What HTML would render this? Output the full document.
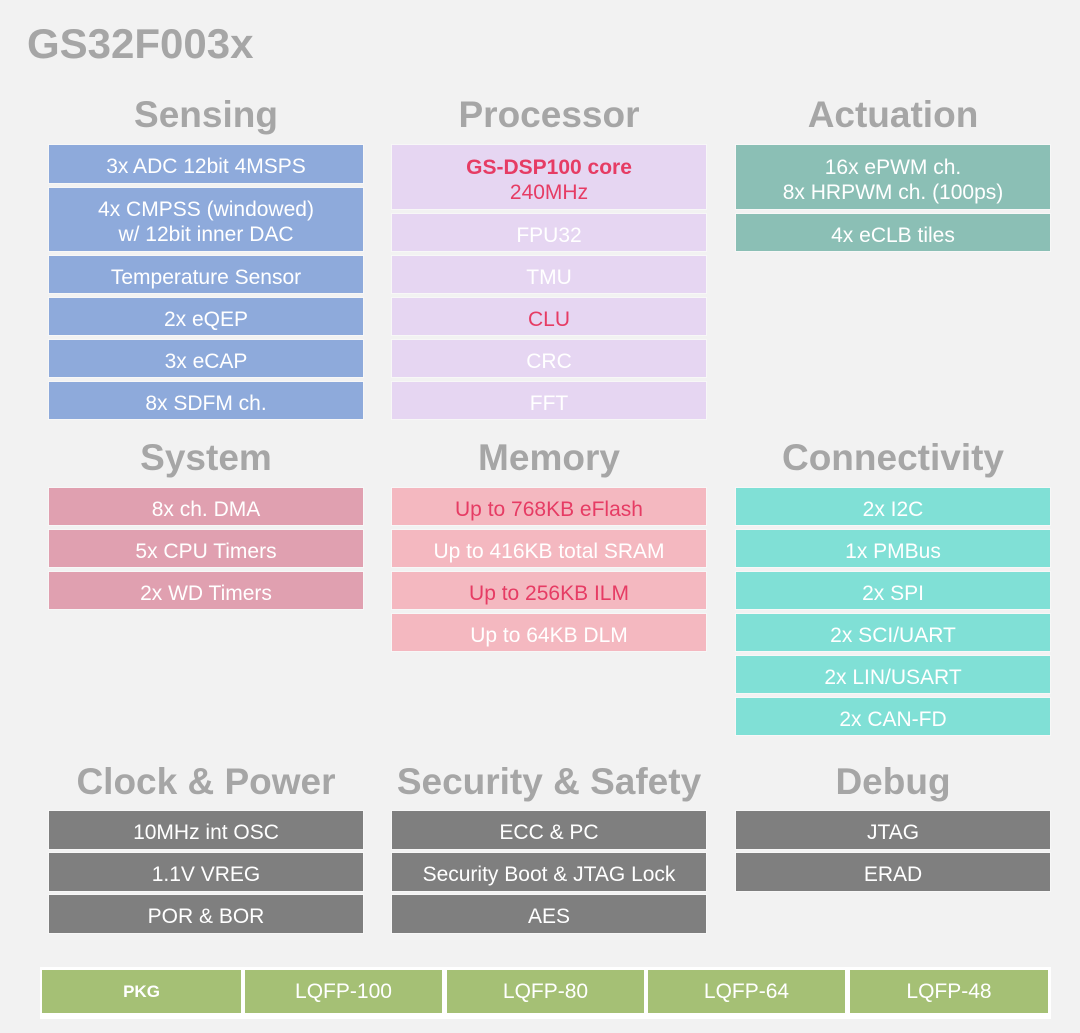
<!DOCTYPE html>
<html><head><style>
body{margin:0;width:1080px;height:1033px;background:#f2f2f2;font-family:"Liberation Sans",sans-serif;position:relative;overflow:hidden}
.t{position:absolute;left:27px;top:20px;font-size:42px;font-weight:bold;color:#a6a6a6}
.h{position:absolute;width:316px;text-align:center;font-size:37px;font-weight:bold;color:#a6a6a6;line-height:40px}
.b{position:absolute;width:316px;display:flex;align-items:center;justify-content:center;text-align:center;color:#fff;font-size:21px;line-height:25px;border:1px solid #f7f7f7;box-sizing:border-box;padding-top:5px}
.r{color:#e63c64}
.s{background:#8eaadb}.p{background:#e6d6f2}.a{background:#8bbfb5}.y{background:#e0a0b0}.m{background:#f4b8c0}.c{background:#80e0d6}.g{background:#7f7f7f}
.k{position:absolute;top:970px;height:43px;background:#a5c075;color:#fff;font-size:21px;display:flex;align-items:center;justify-content:center}
</style></head><body>
<div class="t">GS32F003x</div>
<div class="h" style="left:48px;top:95px">Sensing</div>
<div class="h" style="left:391px;top:95px">Processor</div>
<div class="h" style="left:735px;top:95px">Actuation</div>

<div class="b s" style="left:48px;top:144px;height:40px">3x ADC 12bit 4MSPS</div>
<div class="b s" style="left:48px;top:187px;height:65px">4x CMPSS (windowed)<br>w/ 12bit inner DAC</div>
<div class="b s" style="left:48px;top:255px;height:39px">Temperature Sensor</div>
<div class="b s" style="left:48px;top:297px;height:39px">2x eQEP</div>
<div class="b s" style="left:48px;top:339px;height:39px">3x eCAP</div>
<div class="b s" style="left:48px;top:381px;height:39px">8x SDFM ch.</div>

<div class="b p r" style="left:391px;top:144px;height:66px"><span><b>GS-DSP100 core</b><br>240MHz</span></div>
<div class="b p" style="left:391px;top:213px;height:39px">FPU32</div>
<div class="b p" style="left:391px;top:255px;height:39px">TMU</div>
<div class="b p r" style="left:391px;top:297px;height:39px">CLU</div>
<div class="b p" style="left:391px;top:339px;height:39px">CRC</div>
<div class="b p" style="left:391px;top:381px;height:39px">FFT</div>

<div class="b a" style="left:735px;top:144px;height:66px">16x ePWM ch.<br>8x HRPWM ch. (100ps)</div>
<div class="b a" style="left:735px;top:213px;height:39px">4x eCLB tiles</div>

<div class="h" style="left:48px;top:438px">System</div>
<div class="h" style="left:391px;top:438px">Memory</div>
<div class="h" style="left:735px;top:438px">Connectivity</div>

<div class="b y" style="left:48px;top:487px;height:39px">8x ch. DMA</div>
<div class="b y" style="left:48px;top:529px;height:39px">5x CPU Timers</div>
<div class="b y" style="left:48px;top:571px;height:39px">2x WD Timers</div>

<div class="b m r" style="left:391px;top:487px;height:39px">Up to 768KB eFlash</div>
<div class="b m" style="left:391px;top:529px;height:39px">Up to 416KB total SRAM</div>
<div class="b m r" style="left:391px;top:571px;height:39px">Up to 256KB ILM</div>
<div class="b m" style="left:391px;top:613px;height:39px">Up to 64KB DLM</div>

<div class="b c" style="left:735px;top:487px;height:39px">2x I2C</div>
<div class="b c" style="left:735px;top:529px;height:39px">1x PMBus</div>
<div class="b c" style="left:735px;top:571px;height:39px">2x SPI</div>
<div class="b c" style="left:735px;top:613px;height:39px">2x SCI/UART</div>
<div class="b c" style="left:735px;top:655px;height:39px">2x LIN/USART</div>
<div class="b c" style="left:735px;top:697px;height:39px">2x CAN-FD</div>

<div class="h" style="left:48px;top:762px">Clock &amp; Power</div>
<div class="h" style="left:391px;top:762px">Security &amp; Safety</div>
<div class="h" style="left:735px;top:762px">Debug</div>

<div class="b g" style="left:48px;top:810px;height:40px">10MHz int OSC</div>
<div class="b g" style="left:48px;top:852px;height:40px">1.1V VREG</div>
<div class="b g" style="left:48px;top:894px;height:40px">POR &amp; BOR</div>
<div class="b g" style="left:391px;top:810px;height:40px">ECC &amp; PC</div>
<div class="b g" style="left:391px;top:852px;height:40px">Security Boot &amp; JTAG Lock</div>
<div class="b g" style="left:391px;top:894px;height:40px">AES</div>
<div class="b g" style="left:735px;top:810px;height:40px">JTAG</div>
<div class="b g" style="left:735px;top:852px;height:40px">ERAD</div>

<div style="position:absolute;left:40px;top:967px;width:1011px;height:52px;background:#fff"></div>
<div class="k" style="left:42px;width:199px;font-weight:bold;font-size:17px">PKG</div>
<div class="k" style="left:245px;width:197px">LQFP-100</div>
<div class="k" style="left:447px;width:197px">LQFP-80</div>
<div class="k" style="left:648px;width:197px">LQFP-64</div>
<div class="k" style="left:850px;width:198px">LQFP-48</div>
</body></html>
